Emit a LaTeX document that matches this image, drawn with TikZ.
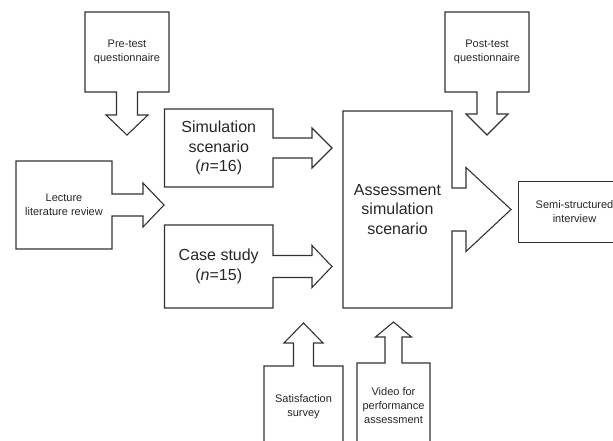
\documentclass[tikz,border=0pt]{standalone}
\usepackage{fontspec}
\setmainfont{Liberation Sans}
\usetikzlibrary{calc}

\begin{document}
\begin{tikzpicture}[x=1pt,y=-1pt]
    \tikzset{box/.style={rectangle, inner sep=0pt, outer sep=0pt, align=center, text=black!85, font=\fontsize{11}{14}\selectfont}}
    \tikzset{bigbox/.style={box, font=\fontsize{16}{19.5}\selectfont}}
    \tikzset{outline/.style={draw=black!80, line width=1.1pt, line join=miter}}
    \useasboundingbox (0,0) rectangle (613,441);
    \clip (0,0) rectangle (613,441);

    \node[box, minimum width=84pt, minimum height=80pt] (pre) at (127,52) {Pre-test\\questionnaire};
    \node[box, minimum width=84pt, minimum height=80pt] (post) at (487,52) {Post-test\\questionnaire};
    \node[box, minimum width=96pt, minimum height=88pt] (lect) at (64,205) {Lecture\\literature review};
    \node[bigbox, minimum width=108.5pt, minimum height=78pt] (sim) at (218.75,148) {Simulation\\scenario\\(\textit{n}=16)};
    \node[bigbox, minimum width=108.5pt, minimum height=83pt] (case) at (218.75,266.5) {Case study\\(\textit{n}=15)};
    \node[bigbox, minimum width=109pt, minimum height=197pt] (assess) at (397.5,209.5) {Assessment\\simulation\\scenario};
    \node[box, draw=black!80, line width=1pt, minimum width=113pt, minimum height=61pt] (semi) at (574.5,211.5) {Semi-structured\\interview};
    \node[box, minimum width=79pt, minimum height=82pt] (sat) at (303.5,407) {Satisfaction\\survey};
    \node[box, minimum width=73pt, minimum height=85pt] (video) at (393.5,405.5) {Video for\\performance\\assessment};

    \draw[outline] (pre.south west) |- (pre.north east) |- ($(pre.south)+(10.5,0)$) -- ++(0,23) -- ++(10.5,0) -- ++(-21,20) -- ++(-21,-20) -- ++(10.5,0) -- ++(0,-23) -- cycle;
    \draw[outline] (post.south west) |- (post.north east) |- ($(post.south)+(10,0)$) -- ++(0,22) -- ++(11,0) -- ++(-21,21) -- ++(-21,-21) -- ++(11,0) -- ++(0,-22) -- cycle;
    \draw[outline] (lect.north east) -| (lect.south west) -| ($(lect.east)+(0,11)$) -- ++(31,0) -- ++(0,11) -- ++(21,-22) -- ++(-21,-22) -- ++(0,11) -- ++(-31,0) -- cycle;
    \draw[outline] (sim.north east) -| (sim.south west) -| ($(sim.east)+(0,10)$) -- ++(39,0) -- ++(0,10) -- ++(20,-20) -- ++(-20,-20) -- ++(0,10) -- ++(-39,0) -- cycle;
    \draw[outline] (case.north east) -| (case.south west) -| ($(case.east)+(0,11)$) -- ++(39,0) -- ++(0,10) -- ++(20,-21) -- ++(-20,-21) -- ++(0,10) -- ++(-39,0) -- cycle;
    \draw[outline] (assess.north east) -| (assess.south west) -| ($(assess.east)+(0,21.5)$) -- ++(14,0) -- ++(0,20.5) -- ++(45,-42) -- ++(-45,-42) -- ++(0,20.5) -- ++(-14,0) -- cycle;
    \draw[outline] (sat.south east) |- ($(sat.north)+(10,0)$) -- ++(0,-23) -- ++(9.5,0) -- ++(-19.5,-20) -- ++(-19.5,20) -- ++(9.5,0) -- ++(0,23) -| (sat.south west) -- cycle;
    \draw[outline] (video.south east) |- ($(video.north)+(8.5,0)$) -- ++(0,-26) -- ++(9.5,0) -- ++(-18,-15) -- ++(-18,15) -- ++(9.5,0) -- ++(0,26) -| (video.south west) -- cycle;
\end{tikzpicture}
\end{document}
